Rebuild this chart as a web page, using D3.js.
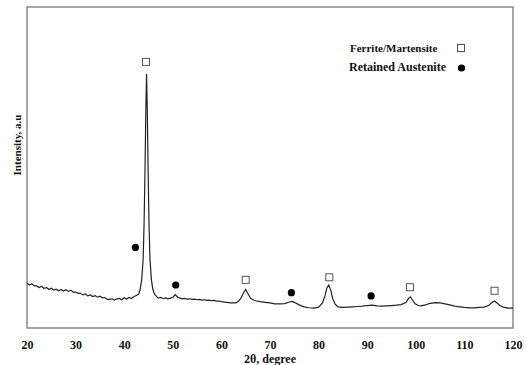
<!DOCTYPE html>
<html>
<head>
<meta charset="utf-8">
<script src="https://cdn.jsdelivr.net/npm/d3@7"></script>
<style>
  body { margin: 0; background: #fff; }
  text { font-family: "Liberation Serif", "DejaVu Serif", "Times New Roman", serif; font-weight: bold; }
</style>
</head>
<body>
<figure id="xrd" style="margin:0"></figure>
<script>
// diffraction pattern
const twoTheta = [
  20, 20.5, 21, 21.5, 22, 22.5, 23, 23.5, 24, 24.5, 25, 25.5, 26, 26.5, 27, 27.5, 28, 28.5, 29, 29.5,
  30, 30.5, 31, 31.5, 32, 32.5, 33, 33.5, 34, 34.5, 35, 35.5, 36, 36.5, 37, 37.5, 38, 38.5, 39, 39.5,
  40, 40.5, 41, 41.5, 42, 42.5, 43, 43.3, 43.6, 43.9, 44.1, 44.3, 44.45, 44.6, 44.75, 44.9, 45.1, 45.3,
  45.6, 45.9, 46.3, 46.8, 47, 47.5, 48, 48.5, 49, 49.5, 50, 50.5, 51, 51.5, 52, 52.5, 53, 53.5, 54, 54.5,
  55, 55.5, 56, 56.5, 57, 57.5, 58, 58.5, 59, 59.5, 60, 61, 62, 63, 63.5, 64, 64.5, 65, 65.5, 66, 66.5,
  67, 68, 69, 70, 71, 72, 73, 74, 74.5, 75, 76, 77, 78, 79, 80, 80.8, 81.3, 81.7, 82.1, 82.5, 82.9,
  83.4, 84, 85, 86, 87, 88, 89, 90, 91, 92, 93, 94, 95, 96, 97, 98, 98.5, 98.9, 99.3, 99.8, 100.5,
  101, 102, 103, 104, 105, 106, 107, 108, 109, 110, 111, 112, 113, 114, 115, 115.7, 116.2, 116.7,
  117.3, 118, 119, 120
];
const intensity = [
  140, 134, 138, 131, 131, 126, 130, 123, 126, 120, 124, 118, 121, 116, 120, 115, 119, 114, 118, 112,
  112, 108, 108, 103, 106, 100, 103, 98, 101, 96, 99, 94, 95, 89, 89, 91, 87, 91, 92, 88,
  94, 90, 95, 92, 98, 101, 106, 122, 150, 215, 330, 510, 680, 791, 680, 510, 330, 215,
  150, 120, 104, 96, 93, 95, 92, 94, 91, 93, 95, 104, 96, 93, 91, 92, 90, 91, 89, 90,
  88, 89, 87, 88, 86, 87, 85, 86, 84, 84, 82, 80, 78, 78, 83, 92, 108, 120, 106, 93, 88,
  85, 82, 80, 78, 75, 75, 76, 81, 83, 80, 72, 66, 63, 62, 65, 78, 100, 125, 134, 118, 92,
  74, 66, 64, 65, 66, 67, 68, 70, 71, 69, 68, 69, 70, 71, 73, 80, 92, 97, 88, 76, 70,
  69, 72, 77, 79, 78, 75, 72, 68, 66, 64, 63, 63, 64, 65, 70, 80, 84, 78,
  70, 65, 62, 62
];

// phase markers
const ferriteTheta = [44.5, 65.0, 82.2, 98.8, 116.2];
const ferriteI = [829, 150, 158, 127, 116];
const austeniteTheta = [42.3, 50.6, 74.4, 90.8];
const austeniteI = [251, 134, 110, 100];

const xTicks = [20, 30, 40, 50, 60, 70, 80, 90, 100, 110, 120];
const legendLabels = ["Ferrite/Martensite", "Retained Austenite"];

const W = 526, H = 365;
const margin = { top: 7, right: 13, bottom: 37, left: 27 };
const width = W - margin.left - margin.right;
const height = H - margin.top - margin.bottom;

const svg = d3.select("figure#xrd")
  .append("svg")
  .attr("width", W)
  .attr("height", H)
  .append("g")
  .attr("transform", "translate(" + margin.left + "," + margin.top + ")");

const x = d3.scaleLinear().domain([20, 120]).range([0, width]);
const y = d3.scaleLinear().domain([0, 1000]).range([height, 0]);

// frame
svg.append("rect")
  .attr("width", width)
  .attr("height", height)
  .attr("fill", "none")
  .attr("stroke", "#8a8a8a")
  .attr("stroke-width", 1.5);

// x axis labels only, no ticks
const xAxis = svg.append("g")
  .attr("transform", "translate(0," + height + ")")
  .call(d3.axisBottom(x).tickValues(xTicks).tickSize(0).tickPadding(12).tickFormat(d3.format("d")));
xAxis.select(".domain").remove();
xAxis.selectAll("text")
  .attr("font-size", 12)
  .attr("fill", "#111");

svg.append("text")
  .attr("x", width / 2)
  .attr("y", height + 35)
  .attr("text-anchor", "middle")
  .attr("font-size", 12)
  .attr("fill", "#111")
  .text("2θ, degree");

svg.append("text")
  .attr("transform", "translate(-6,138)rotate(-90)")
  .attr("text-anchor", "middle")
  .attr("font-size", 11)
  .attr("fill", "#111")
  .text("Intensity, a.u");

// pattern
const pts = twoTheta.map((t, i) => [t, intensity[i]]);
svg.append("path")
  .datum(pts)
  .attr("fill", "none")
  .attr("stroke", "#222")
  .attr("stroke-width", 1.2)
  .attr("d", d3.line().x(d => x(d[0])).y(d => y(d[1])));

// markers
svg.selectAll(".fm")
  .data(ferriteTheta)
  .enter()
  .append("rect")
  .attr("x", d => x(d) - 3.5)
  .attr("y", (d, i) => y(ferriteI[i]) - 3.5)
  .attr("width", 7)
  .attr("height", 7)
  .attr("fill", "#fff")
  .attr("stroke", "#555")
  .attr("stroke-width", 1);

svg.selectAll(".ra")
  .data(austeniteTheta)
  .enter()
  .append("circle")
  .attr("cx", d => x(d))
  .attr("cy", (d, i) => y(austeniteI[i]))
  .attr("r", 3.6)
  .attr("fill", "#000");

// legend
const lg = svg.append("g").attr("transform", "translate(323,41)");
lg.append("text").attr("x", 0).attr("y", 4).attr("font-size", 11).attr("fill", "#111").text(legendLabels[0]);
lg.append("text").attr("x", -1).attr("y", 23).attr("font-size", 12).attr("fill", "#111").text(legendLabels[1]);
lg.append("rect").attr("x", 107.5).attr("y", -3.5).attr("width", 7).attr("height", 7)
  .attr("fill", "#fff").attr("stroke", "#555").attr("stroke-width", 1);
lg.append("circle").attr("cx", 111.5).attr("cy", 20).attr("r", 3.6).attr("fill", "#000");
</script>
</body>
</html>
